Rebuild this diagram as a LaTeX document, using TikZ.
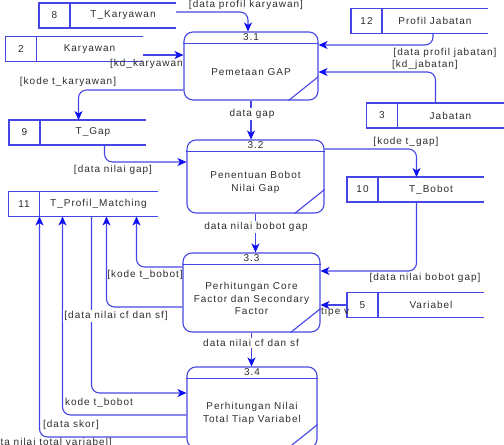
\documentclass[tikz,border=0pt]{standalone}
\usepackage{fontspec}
\setmainfont{Liberation Sans}[LetterSpace=10]
\usetikzlibrary{positioning,arrows.meta}
\definecolor{dfd}{RGB}{70,70,228}
\definecolor{dfdtip}{RGB}{15,15,245}
\definecolor{ink}{RGB}{45,45,45}

\begin{document}
\begin{tikzpicture}[x=1pt,y=-1pt,
		every node/.style={font=\fontsize{10}{12.5}\selectfont,text=ink},
		proc/.style={draw=dfd,line width=1.1pt,rounded corners=9pt,inner sep=0pt},
		snum/.style={draw=dfd,line width=1.1pt,minimum width=31pt,minimum height=25pt,inner sep=0pt,outer sep=0pt},
		sname/.style={minimum width=106pt,minimum height=25pt,inner sep=0pt,outer sep=0pt,
			append after command={\pgfextra{\draw[dfd,line width=1.1pt] (\tikzlastnode.north west) -- (\tikzlastnode.north east) (\tikzlastnode.south west) -- (\tikzlastnode.south east);}}},
		flow/.style={draw=dfd,line width=1.1pt,rounded corners=8pt,-{Stealth[length=9pt,width=8pt,inset=2.5pt,color=dfdtip]}},
		line/.style={draw=dfd,line width=1.1pt},
		lbl/.style={inner sep=1pt},
		wlbl/.style={fill=white,inner sep=1.5pt}]
	\useasboundingbox (0,0) rectangle (504,445);

	% processes
	\node[proc,minimum width=134pt,minimum height=68pt]	(p1)	at (251,66)		{};
	\node[proc,minimum width=137pt,minimum height=73pt]	(p2)	at (255.5,176.5)	{};
	\node[proc,minimum width=137pt,minimum height=79pt]	(p3)	at (251.5,292.5)	{};
	\node[proc,minimum width=130pt,minimum height=81pt]	(p4)	at (252,407.5)	{};
	\foreach \p in {p1,p2,p3,p4} {
		\draw[line] ([yshift=-12pt]\p.north west) -- ([yshift=-12pt]\p.north east);
		\draw[line] ([xshift=-30pt]\p.south east) -- ([yshift=24pt]\p.south east);
	}
	\node (p1n) at ([yshift=-6pt]p1.north) {3.1};
	\node (p2n) at ([yshift=-6pt]p2.north) {3.2};
	\node (p3n) at ([yshift=-6pt]p3.north) {3.3};
	\node (p4n) at ([yshift=-6pt]p4.north) {3.4};
	\node[align=center] (p1t) at ([yshift=-6pt]p1.center) {Pemetaan GAP};
	\node[align=center] (p2t) at ([yshift=-6pt]p2.center) {Penentuan Bobot\\Nilai Gap};
	\node[align=center] (p3t) at ([yshift=-6pt]p3.center) {Perhitungan Core\\Factor dan Secondary\\Factor};
	\node[align=center] (p4t) at ([yshift=-6pt]p4.center) {Perhitungan Nilai\\Total Tiap Variabel};

	% data stores
	\node[snum]	(s8)	at (54.5,15.5)	{8};
	\node[sname,right=0pt of s8]	(s8n)	{T\_Karyawan};
	\node[snum]	(s2)	at (21,49)	{2};
	\node[sname,right=0pt of s2]	(s2n)	{Karyawan};
	\node[snum]	(s9)	at (24.5,132.5)	{9};
	\node[sname,right=0pt of s9]	(s9n)	{T\_Gap};
	\node[snum]	(s11)	at (24,204)	{11};
	\node[sname,minimum width=118pt,right=0pt of s11]	(s11n)	{T\_Profil\_Matching};
	\node[snum]	(s12)	at (366.5,21)	{12};
	\node[sname,right=0pt of s12]	(s12n)	{Profil Jabatan};
	\node[snum]	(s3)	at (382,115.5)	{3};
	\node[sname,right=0pt of s3]	(s3n)	{Jabatan};
	\node[snum]	(s10)	at (362.5,189.5)	{10};
	\node[sname,right=0pt of s10]	(s10n)	{T\_Bobot};
	\node[snum]	(s5)	at (362.5,305)	{5};
	\node[sname,right=0pt of s5]	(s5n)	{Variabel};

	% flows
	\draw[flow] ([yshift=3.5pt]s8n.east) -| ([xshift=-3pt]p1.north);
	\draw[flow] ([yshift=-6pt]s2n.east) -- ([yshift=-6pt]s2n.east -| p1.west);
	\draw[flow] ([yshift=-24pt]p1.west) -| ([xshift=-14.5pt]s9n.north);
	\draw[flow] ([xshift=-2pt]s12n.south) |- ([yshift=21pt]p1.east);
	\draw[flow] ([xshift=-15pt]s3n.north) |- ([yshift=-6pt]p1.east);
	\draw[flow] (p1.south) -- (p1.south |- p2.north);
	\draw[flow] ([xshift=11.5pt]s9n.south) |- ([yshift=14.5pt]p2.west);
	\draw[flow] ([yshift=27.5pt]p2.east) -| ([xshift=-14.5pt]s10n.north);
	\draw[flow] (p2.south) -- (p2.south |- p3.north);
	\draw[flow] ([xshift=-14.5pt]s10n.south) |- ([yshift=21.5pt]p3.east);
	\draw[flow] (s5.west) -- (s5.west -| p3.east);
	\draw[flow] ([yshift=25.5pt]p3.west) -| ([xshift=38pt]s11n.south);
	\draw[flow] ([yshift=-14.5pt]p3.west) -| ([xshift=8pt]s11n.south);
	\draw[flow] ([xshift=-7pt]s11n.south) |- ([yshift=14.5pt]p4.west);
	\draw[flow] ([yshift=-7.5pt]p4.west) -| ([xshift=-36pt]s11n.south);
	\draw[flow] ([yshift=-29.5pt]p4.west) -| (s11n.south west);
	\draw[flow] (p3.south) -- (p3.south |- p4.north);

	% flow labels
	\node[lbl]	(l1)	at (246,5)	{[data profil karyawan]};
	\node[lbl,anchor=east]	(l2)	at (184,64)	{[kd\_karyawan};
	\node[lbl]	(l3)	at (68,82)	{[kode t\_karyawan]};
	\node[lbl]	(l4)	at (445,53)	{[data profil jabatan]};
	\node[lbl,anchor=west]	(l5)	at (391,65)	{[kd\_jabatan]};
	\node[wlbl]	(l6)	at (252,114)	{data gap};
	\node[lbl]	(l7)	at (113,170)	{[data nilai gap]};
	\node[lbl]	(l8)	at (406,142)	{[kode t\_gap]};
	\node[wlbl]	(l9)	at (256,227)	{data nilai bobot gap};
	\node[lbl]	(l10)	at (425,278)	{[data nilai bobot gap]};
	\node[lbl,anchor=west]	(l11)	at (320,312)	{tipe v};
	\node[lbl]	(l12)	at (145,275)	{[kode t\_bobot]};
	\node[wlbl]	(l13)	at (116,316)	{[data nilai cf dan sf]};
	\node[lbl]	(l14)	at (99,403)	{kode t\_bobot};
	\node[lbl]	(l15)	at (71,425)	{[data skor]};
	\node[lbl,anchor=east]	(l16)	at (113,443)	{[data nilai total variabel]};
	\node[wlbl]	(l17)	at (251,343)	{data nilai cf dan sf};
\end{tikzpicture}
\end{document}
